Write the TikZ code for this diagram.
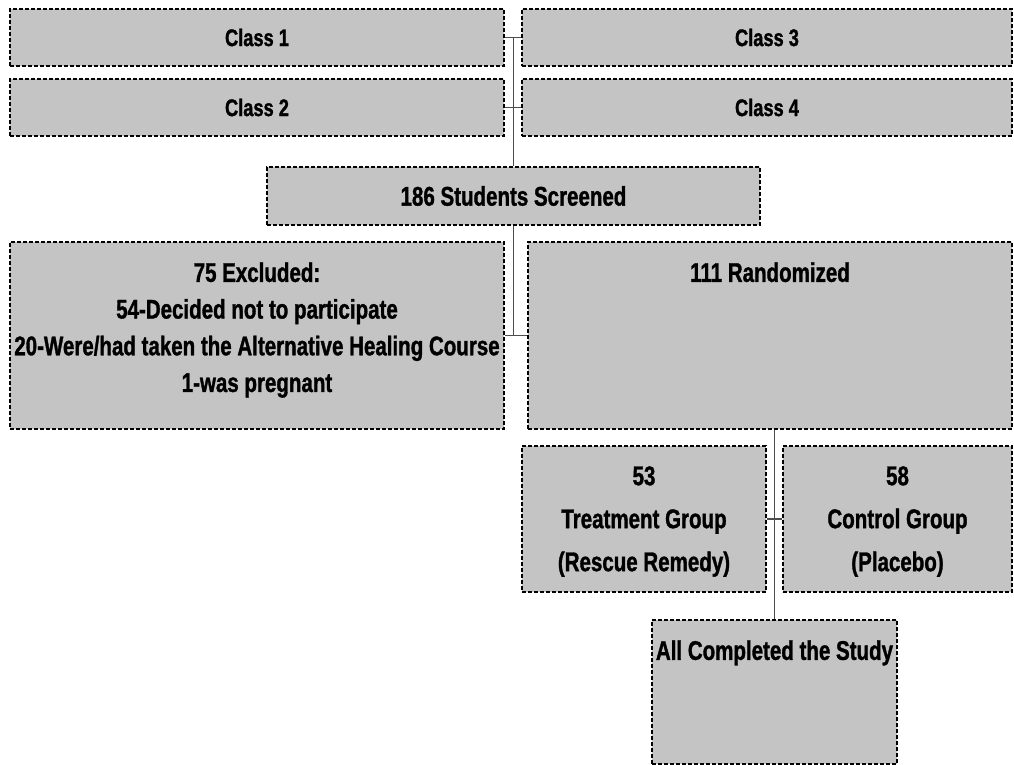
\documentclass[tikz,border=0pt]{standalone}
\usepackage{fontspec}
\setmainfont[FakeStretch=0.76, FakeBold=1.2]{Liberation Sans}
\definecolor{boxgray}{RGB}{196,196,196}

\begin{document}
\begin{tikzpicture}[x=0.5pt, y=-0.5pt,
        box/.style={draw, line width=1.1pt, dash pattern=on 2pt off 1pt, fill=boxgray, inner sep=0pt, font=\bfseries\fontsize{13.5}{18.35}\selectfont},
        cls/.style={box, minimum height=28.5pt, font=\bfseries\fontsize{12}{14}\selectfont},
        txt/.style={anchor=north, inner sep=0pt, align=center, font=\bfseries\fontsize{13.5}{18.35}\selectfont},
        link/.style={draw=black!70, line width=0.6pt}]
        \useasboundingbox (0, 0) rectangle (1014, 765);
        \node [cls, minimum width=247pt] (C1) at (257, 37.5) {Class 1};
        \node [cls, minimum width=247pt] (C2) at (257, 107.5) {Class 2};
        \node [cls, minimum width=245pt] (C3) at (767, 37.5) {Class 3};
        \node [cls, minimum width=245pt] (C4) at (767, 107.5) {Class 4};
        \node [box, minimum width=246.5pt, minimum height=29pt] (SS) at (513.5, 196) {186 Students Screened};
        \node [box, minimum width=247pt, minimum height=93.5pt] (EX) at (257, 335.5) {};
        \node [box, minimum width=242pt, minimum height=93.5pt] (RA) at (770, 335.5) {};
        \node [box, minimum width=122pt, minimum height=73pt] (TG) at (644, 519) {};
        \node [box, minimum width=114.5pt, minimum height=73pt] (CG) at (897.5, 519) {};
        \node [box, minimum width=122.5pt, minimum height=72pt] (AC) at (774.5, 692) {};
        \node [txt] (EXt) at ([yshift=-10.5pt]EX.north) {75 Excluded:\\54-Decided not to participate\\20-Were/had taken the Alternative Healing Course\\1-was pregnant};
        \node [txt] (RAt) at ([yshift=-10.5pt]RA.north) {111 Randomized};
        \node [txt, font=\bfseries\fontsize{13.5}{21.5}\selectfont] (TGt) at ([yshift=-10.5pt]TG.north) {53\\Treatment Group\\(Rescue Remedy)};
        \node [txt, font=\bfseries\fontsize{13.5}{21.5}\selectfont] (CGt) at ([yshift=-10.5pt]CG.north) {58\\Control Group\\(Placebo)};
        \node [txt] (ACt) at ([yshift=-10.5pt]AC.north) {All Completed the Study};
        \draw [link] (C1.east) -- (C3.west);
        \draw [link] (C2.east) -- (C4.west);
        \draw [link] (SS.north |- C1.east) -- (SS.north);
        \draw [link] (SS.south) -- (SS.south |- EX.east);
        \draw [link] (EX.east) -- (RA.west);
        \draw [link] (AC.north |- RA.south) -- (AC.north);
        \draw [link] (TG.east) -- (CG.west);
\end{tikzpicture}
\end{document}
